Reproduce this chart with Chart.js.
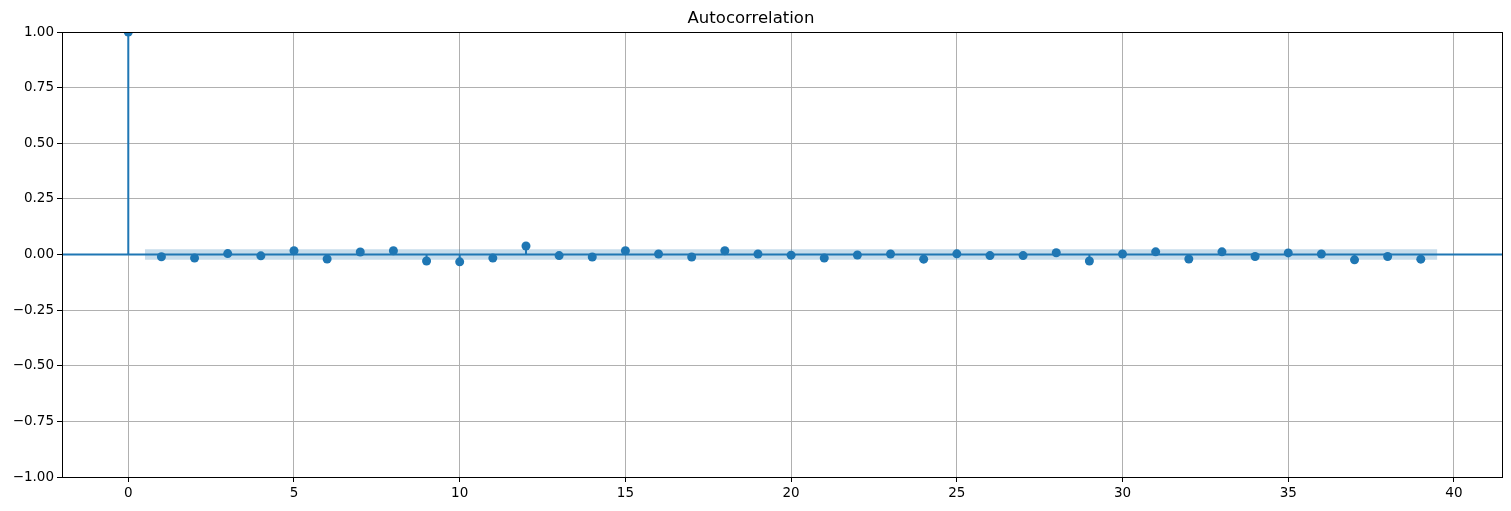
<!DOCTYPE html>
<html>
<head>
<meta charset="utf-8">
<script src="https://cdn.jsdelivr.net/npm/chart.js@4/dist/chart.umd.min.js"></script>
<style>
  body { margin: 0; background: #fff; }
  #wrap { width: 1511px; height: 511px; }
</style>
</head>
<body>
<div id="wrap"><canvas id="acf" width="1511" height="511"></canvas></div>
<script>
// autocorrelation values, lag 0..39
const lags = [];
for (let k = 0; k <= 39; k++) lags.push(k);
const acfValues = [
  1.0, -0.010, -0.016, 0.004, -0.006, 0.017, -0.020, 0.011, 0.017, -0.029,
  -0.033, -0.016, 0.038, -0.005, -0.011, 0.017, 0.002, -0.011, 0.017, 0.002,
  -0.003, -0.016, -0.002, 0.002, -0.021, 0.003, -0.005, -0.005, 0.008, -0.029,
  0.002, 0.012, -0.020, 0.012, -0.009, 0.007, 0.002, -0.024, -0.009, -0.021
];
const confLimit = 0.024; // half-width of the shaded band
const xTicks = [0, 5, 10, 15, 20, 25, 30, 35, 40];
const yTicks = [-1, -0.75, -0.5, -0.25, 0, 0.25, 0.5, 0.75, 1];

const blue = '#1f77b4';
const band = 'rgba(31,119,180,0.25)';

// shaded band runs from half a lag before lag 1 to half a lag past the last one
const bandStart = lags[1] - 0.5, bandEnd = lags[lags.length - 1] + 0.5;
const bandUpper = [{ x: bandStart, y: confLimit }, { x: bandEnd, y: confLimit }];
const bandLower = [{ x: bandStart, y: -confLimit }, { x: bandEnd, y: -confLimit }];

// stems: (lag,0) -> (lag,value), broken by null gaps
const stemPts = [];
lags.forEach((k, i) => {
  stemPts.push({ x: k, y: 0 }, { x: k, y: acfValues[i] }, { x: k, y: null });
});
const markerPts = lags.map((k, i) => ({ x: k, y: acfValues[i] }));

const fmtY = v => {
  const s = Math.abs(v).toFixed(2);
  return v < 0 ? '\u2212' + s : s;
};

// zero line across the full axes + black frame
const frame = {
  id: 'frame',
  afterDatasetsDraw(chart) {
    const { ctx, chartArea: a, scales } = chart;
    const y0 = scales.y.getPixelForValue(0);
    ctx.save();
    ctx.beginPath();
    ctx.rect(a.left, a.top, a.right - a.left, a.bottom - a.top);
    ctx.clip();
    ctx.strokeStyle = blue;
    ctx.lineWidth = 2;
    ctx.beginPath();
    ctx.moveTo(a.left, y0);
    ctx.lineTo(a.right, y0);
    ctx.stroke();
    ctx.restore();
  },
  afterDraw(chart) {
    const { ctx, chartArea: a } = chart;
    ctx.save();
    ctx.strokeStyle = '#000';
    ctx.lineWidth = 1;
    ctx.strokeRect(Math.round(a.left) + 0.5, Math.round(a.top) + 0.5,
      Math.round(a.right - a.left), Math.round(a.bottom - a.top));
    ctx.restore();
  }
};

new Chart(document.getElementById('acf').getContext('2d'), {
  type: 'scatter',
  data: {
    datasets: [
      { data: bandUpper, showLine: true, borderWidth: 0, pointRadius: 0, backgroundColor: band, fill: false },
      { data: bandLower, showLine: true, borderWidth: 0, pointRadius: 0, backgroundColor: band, fill: '-1' },
      { data: stemPts, showLine: true, spanGaps: false, borderColor: blue, borderWidth: 2, pointRadius: 0 },
      { data: markerPts, showLine: false, pointRadius: 4.5, pointHoverRadius: 4.5,
        backgroundColor: blue, borderColor: blue, borderWidth: 0, clip: 0 }
    ]
  },
  options: {
    responsive: false,
    animation: false,
    layout: { padding: { left: 0, right: 9, top: 0, bottom: 0 } },
    plugins: {
      legend: { display: false },
      tooltip: { enabled: false },
      title: {
        display: true,
        text: 'Autocorrelation',
        color: '#000',
        font: { family: 'DejaVu Sans', size: 16.5, weight: 'normal' },
        padding: { top: 9, bottom: 3.2 }
      }
    },
    scales: {
      x: {
        type: 'linear',
        min: -2.0,
        max: 41.45,
        afterBuildTicks: s => { s.ticks = xTicks.map(v => ({ value: v })); },
        afterFit: s => { s.height = 34; },
        grid: { color: '#b0b0b0', lineWidth: 1, tickColor: '#000', tickLength: 5 },
        border: { display: false },
        ticks: {
          color: '#000', padding: 3, maxRotation: 0,
          font: { family: 'DejaVu Sans', size: 13.5 },
          callback: v => String(v)
        }
      },
      y: {
        min: -1,
        max: 1,
        afterBuildTicks: s => { s.ticks = yTicks.map(v => ({ value: v })); },
        afterFit: s => { s.width = 62; },
        grid: { color: '#b0b0b0', lineWidth: 1, tickColor: '#000', tickLength: 5 },
        border: { display: false },
        ticks: {
          color: '#000', padding: 3,
          font: { family: 'DejaVu Sans', size: 13.5 },
          callback: v => fmtY(v)
        }
      }
    }
  },
  plugins: [frame]
});
</script>
</body>
</html>
